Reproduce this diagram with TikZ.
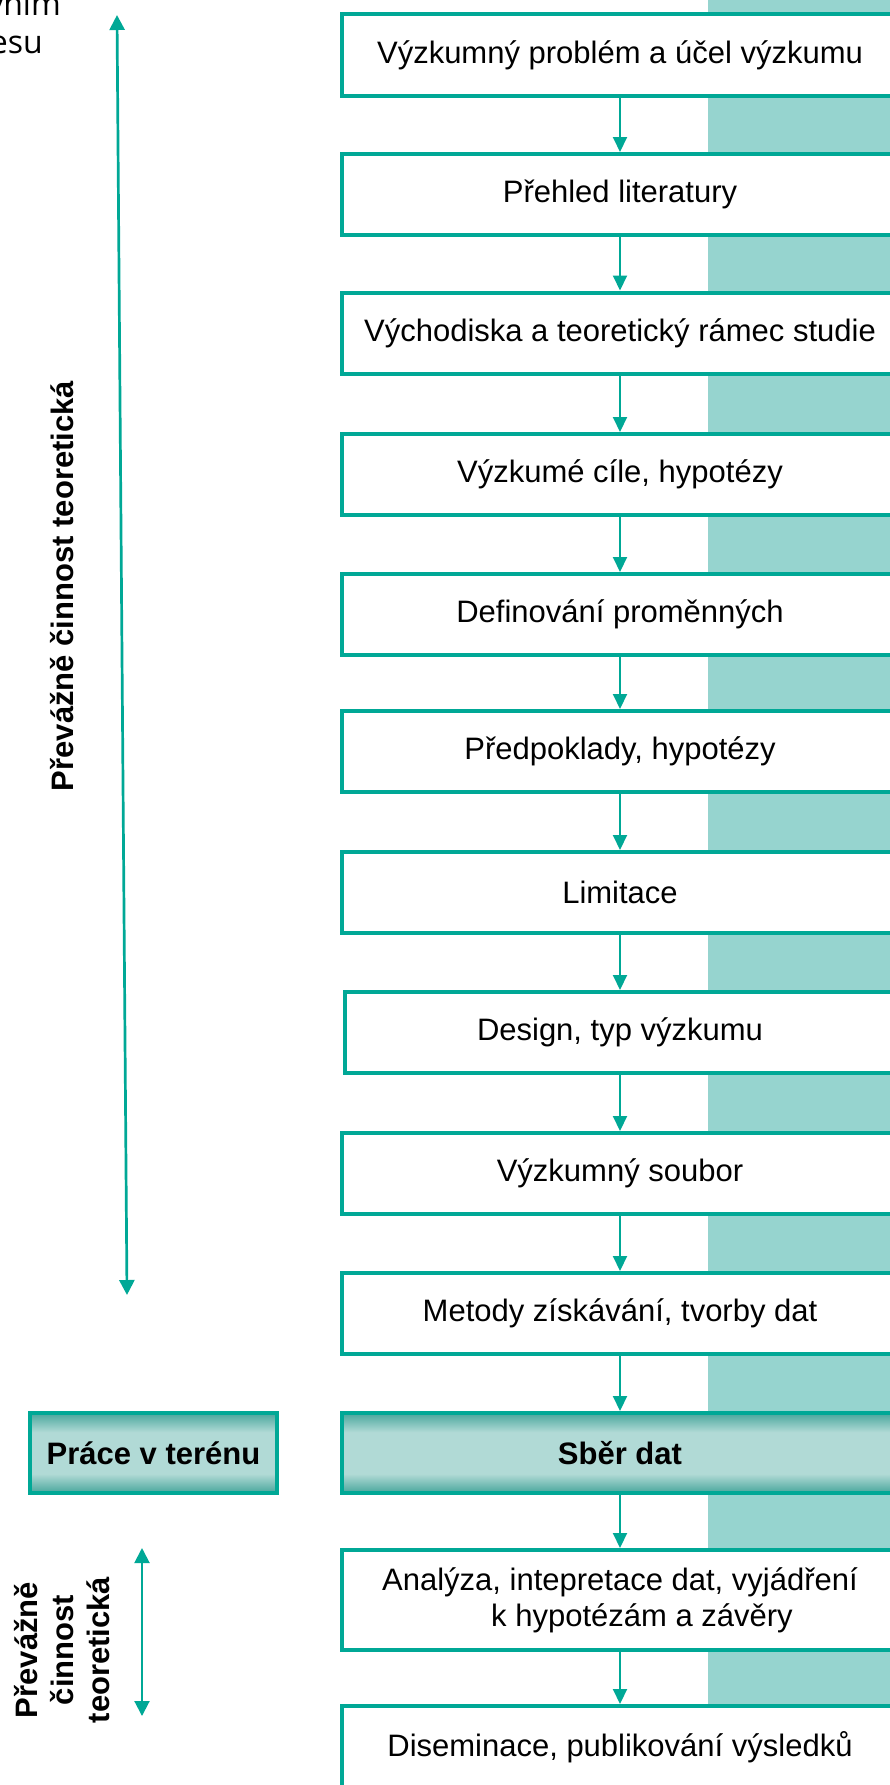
\documentclass[tikz,border=0pt]{standalone}
\usepackage{fontspec}
\setmainfont{Liberation Sans}
\newfontfamily\opensans{Open Sans}
\usetikzlibrary{arrows.meta}
\definecolor{tealb}{RGB}{0,168,150}
\definecolor{stripc}{RGB}{150,212,207}
\definecolor{tlight}{RGB}{177,218,214}
\definecolor{tdark}{RGB}{72,166,156}
\pgfdeclareverticalshading{fieldsh}{100bp}{color(0bp)=(tdark); color(25bp)=(tdark); color(37bp)=(tlight); color(63bp)=(tlight); color(75bp)=(tdark); color(100bp)=(tdark)}
\tikzset{
  boxbase/.style={draw=tealb, line width=4pt, inner sep=0pt, align=center,
    font=\fontsize{31}{36}\selectfont},
  stepbox/.style={boxbase, fill=white, minimum width=556pt, minimum height=81pt},
  fieldbox/.style={boxbase, shading=fieldsh, minimum height=80pt,
    font=\fontsize{31}{36}\selectfont\bfseries},
  arr/.style={draw=tealb, line width=2pt, -{Triangle[width=14pt,length=15pt]}},
  dblarr/.style={draw=tealb, line width=2.7pt,
    {Triangle[width=15pt,length=15pt]}-{Triangle[width=15pt,length=15pt]}},
  sidetext/.style={rotate=90, font=\fontsize{31}{36}\selectfont\bfseries, align=center, inner sep=0pt},
  cuttext/.style={font=\opensans\fontsize{32}{37}\selectfont, inner sep=0pt}
}
\begin{document}
\begin{tikzpicture}[x=1pt,y=-1pt]
\useasboundingbox (0,0) rectangle (890,1785);
\clip (0,0) rectangle (890,1785);
% background strip
\fill[stripc] (708,-5) rectangle (900,1795);

% cut-off text top-left
\node[cuttext, anchor=base east] (t1) at (61,16) {vním};
\node[cuttext, anchor=base east] (t2) at (43,53) {esu};

% boxes
\node[stepbox] (b1) at (620,55) {Výzkumný problém a účel výzkumu};
\node[stepbox] (b2) at (620,194.5) {Přehled literatury};
\node[stepbox] (b3) at (620,333) {Východiska a teoretický rámec studie};
\node[stepbox] (b4) at (620,474.5) {Výzkumé cíle, hypotézy};
\node[stepbox] (b5) at (620,614.5) {Definování proměnných};
\node[stepbox] (b6) at (620,751.5) {Předpoklady, hypotézy};
\node[stepbox] (b7) at (620,892.5) {Limitace};
\node[stepbox, minimum width=550pt] (b8) at (620,1032.5) {Design, typ výzkumu};
\node[stepbox] (b9) at (620,1173.5) {Výzkumný soubor};
\node[stepbox] (b10) at (620,1313.5) {Metody získávání, tvorby dat};
\node[fieldbox, minimum width=556pt] (b11) at (620,1453) {Sběr dat};
\node[stepbox, minimum height=100pt] (b12) at (620,1600)
  {Analýza, intepretace dat, vyjádření\\\hspace*{44pt}k hypotézám a závěry};
\node[stepbox, minimum height=82pt] (b13) at (620,1747) {Diseminace, publikování výsledků};

\node[fieldbox, minimum width=247pt] (p) at (153.5,1453) {Práce v terénu};

% arrows between boxes
\draw[arr] (b1.south) -- (b2.north);
\draw[arr] (b2.south) -- (b3.north);
\draw[arr] (b3.south) -- (b4.north);
\draw[arr] (b4.south) -- (b5.north);
\draw[arr] (b5.south) -- (b6.north);
\draw[arr] (b6.south) -- (b7.north);
\draw[arr] (b7.south) -- (b8.north);
\draw[arr] (b8.south) -- (b9.north);
\draw[arr] (b9.south) -- (b10.north);
\draw[arr] (b10.south) -- (b11.north);
\draw[arr] (b11.south) -- (b12.north);
\draw[arr] (b12.south) -- (b13.north);

% left side
\coordinate (la) at (117,15);
\coordinate (lb) at (127,1295);
\draw[dblarr] (la) -- (lb);
\node[sidetext] (s1) at (62,586) {Převážně činnost teoretická};

\coordinate (ma) at (142,1548);
\coordinate (mb) at (142,1716);
\draw[dblarr, line width=2pt] (ma) -- (mb);
\node[sidetext] (s2) at (62,1650) {Převážně\\činnost\\teoretická};
\end{tikzpicture}
\end{document}
